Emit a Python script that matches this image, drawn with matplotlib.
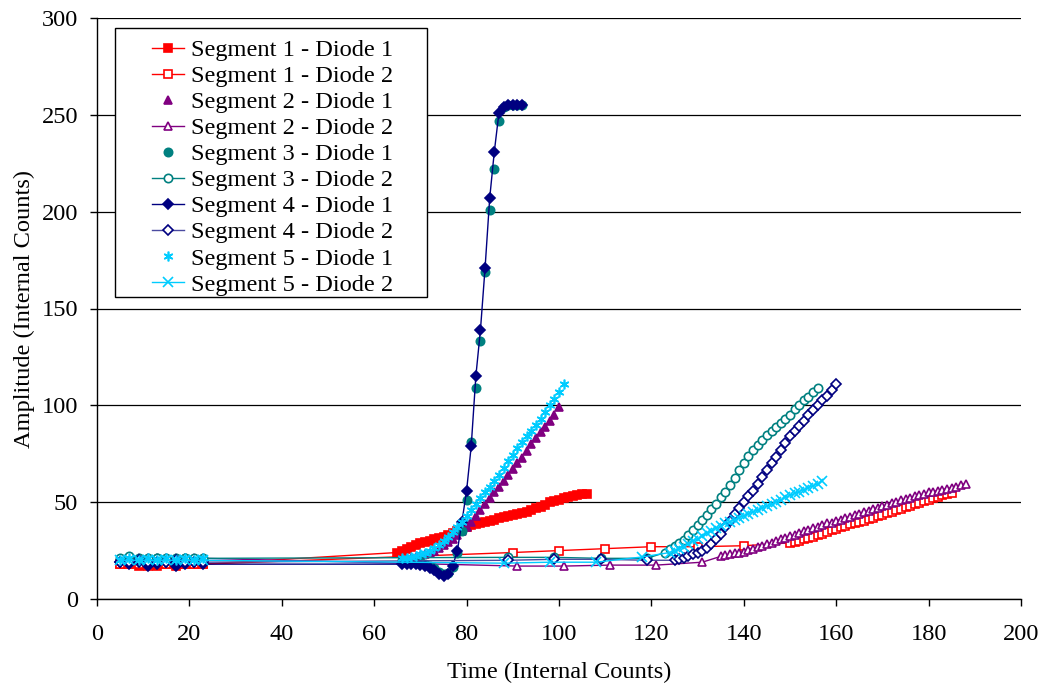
import numpy as np
import matplotlib
matplotlib.use('Agg')
import matplotlib.pyplot as plt
from matplotlib.patches import Rectangle

plt.rcParams['font.family'] = ['Liberation Serif', 'DejaVu Serif']
plt.rcParams['font.size'] = 17.6

# Initial cluster common to every series
cluster_x = [5, 7, 9, 11, 13, 15, 17, 19, 21, 23]

# Segment 1
s1d1_cy = [18, 18, 17, 18, 17, 18, 17, 18, 18, 18]
s1d1_x = list(range(65, 107))
s1d1_y = [24, 25, 26, 27, 28, 29, 29.5, 30, 31, 31.5, 32, 33, 34, 35, 36, 37, 38, 38.5, 39, 40,
          40.5, 41, 42, 42.5, 43, 43.5, 44, 44.5, 45, 46, 47, 47.5, 48.5, 50, 50.5, 51, 52, 52.5,
          53, 53.5, 54, 54]
s1d2_cy = [18, 18, 18, 17, 18, 18, 18, 18, 18, 18]
s1d2_x = [90, 100, 110, 120, 130, 140] + list(range(150, 186))
s1d2_y = [24, 25, 26, 27, 27, 27.5,
          29, 29.5, 30, 31, 31.5, 32, 33, 33.5, 34.5, 35.5, 36, 37, 37.5, 38.5, 39, 40, 40.5, 41.5,
          42, 43, 43.5, 44.5, 45, 46, 46.5, 47.5, 48, 49, 49.5, 50.5, 51, 52, 52.5, 53.5, 54, 54.5]

# Segment 2
s2d1_cy = [20, 20, 21, 20, 21, 20, 21, 20, 21, 20]
s2d1_x = list(range(66, 101))
s2d1_y = [20, 20.5, 21, 21.5, 22, 23, 24, 25, 26.5, 28, 29.5, 31, 33, 35, 37, 40, 43, 46, 49, 52,
          55, 58, 61, 64, 67, 70, 73, 76.5, 80, 83, 86, 89, 92, 95, 99]
s2d2_cy = [20, 21, 20, 21, 20, 21, 20, 21, 20, 21]
s2d2_x = [91, 101, 111, 121, 131] + list(range(135, 189))
s2d2_y = [17, 17, 17.5, 17.5, 19,
          22, 22.5, 23, 23.5, 24, 24.5, 25.5, 26, 27, 27.5, 28.5, 29, 30, 31, 31.5, 32.5, 33, 34,
          35, 35.5, 36.5, 37, 38, 39, 39.5, 40.5, 41, 42, 42.5, 43.5, 44, 45, 45.5, 46.5, 47, 48,
          48.5, 49.5, 50, 51, 51.5, 52, 53, 53.5, 54, 55, 55.5, 56, 56.5, 57, 57.5, 58, 59, 59.5]

# Segment 3
s3d1_cy = [20, 21, 20, 20, 21, 20, 20, 21, 20, 20]
s3d1_x = list(range(66, 93))
s3d1_y = [20, 20, 20, 19.5, 19, 18, 17, 16, 14, 13, 13.5, 16.5, 24, 35, 51, 81, 109, 133, 169,
          201, 222, 247, 254, 255, 255, 255, 255]
s3d2_cy = [21, 22, 21, 21, 21, 21, 21, 21, 21, 21]
s3d2_x = [89, 99, 109, 119] + list(range(123, 157))
s3d2_y = [21.5, 21.5, 21, 21,
          24, 26, 27.5, 29, 30.5, 33, 35.5, 38, 41, 43.5, 46.5, 49, 52.5, 55.5, 59, 62.5, 66.5,
          70, 74, 77, 79.5, 82, 84.5, 87, 89, 91, 93, 95, 98, 100, 102.5, 104.5, 107, 109]

# Segment 4
s4d1_cy = [19, 18, 19, 17, 18, 19, 17, 18, 19, 18]
s4d1_x = list(range(66, 93))
s4d1_y = [18, 18, 18, 18, 17.5, 17, 16, 15, 13, 12, 13, 17, 25, 40, 56, 79, 115, 139, 171,
          207, 231, 251, 254, 255, 255, 255, 255]
s4d2_cy = [19, 19, 20, 19, 19, 19, 20, 19, 19, 19]
s4d2_x = [89, 99, 109, 119] + list(range(125, 161))
s4d2_y = [20, 20.5, 20.5, 20,
          20, 20.5, 21, 22, 23, 24, 25, 26.5, 28.5, 31, 33.5, 37, 40.5, 44, 47, 50, 53, 56, 59.5,
          63, 66.5, 70, 73.5, 77, 80.5, 84, 87, 89.5, 92, 95, 97.5, 100, 102.5, 105, 108, 111]

# Segment 5
s5d1_cy = [20, 21, 20, 21, 20, 21, 20, 21, 20, 21]
s5d1_x = list(range(66, 102))
s5d1_y = [21, 21, 21.5, 22, 23, 24, 25, 26.5, 28, 30, 32, 34.5, 37, 40, 43, 46, 49, 52, 55, 58,
          61, 64, 67.5, 71, 74.5, 78, 81, 84, 87, 90, 93, 96.5, 100, 103.5, 107, 111]
s5d2_cy = [20, 20, 20, 20, 20, 20, 20, 20, 20, 20]
s5d2_x = [88, 98, 108, 118] + list(range(124, 158))
s5d2_y = [18.5, 19, 19, 21.7,
          24, 25, 26, 27, 28.5, 30, 31, 32.5, 34, 35, 36.5, 37.5, 39, 40, 41, 42, 43, 44, 45, 46,
          47, 48, 49, 50, 51, 52.5, 53.5, 54.5, 55.5, 56.5, 57.5, 58.5, 59.5, 61]

red = '#FF0000'
purple = '#800080'
teal = '#008080'
navy = '#000080'
sky = '#00CCFF'
asterisk = (6, 2, 0)

series = [
    ('Segment 1 - Diode 1', s1d1_cy, s1d1_x, s1d1_y, dict(color=red, marker='s', ms=5.5, mfc=red, mec=red, ls='-')),
    ('Segment 1 - Diode 2', s1d2_cy, s1d2_x, s1d2_y, dict(color=red, marker='s', ms=5.5, mfc='white', mec=red, ls='-')),
    ('Segment 2 - Diode 1', s2d1_cy, s2d1_x, s2d1_y, dict(color=purple, marker='^', ms=6, mfc=purple, mec=purple, ls='none')),
    ('Segment 2 - Diode 2', s2d2_cy, s2d2_x, s2d2_y, dict(color=purple, marker='^', ms=6, mfc='white', mec=purple, ls='-')),
    ('Segment 3 - Diode 1', s3d1_cy, s3d1_x, s3d1_y, dict(color=teal, marker='o', ms=6, mfc=teal, mec=teal, ls='none')),
    ('Segment 3 - Diode 2', s3d2_cy, s3d2_x, s3d2_y, dict(color=teal, marker='o', ms=6, mfc='white', mec=teal, ls='-')),
    ('Segment 4 - Diode 1', s4d1_cy, s4d1_x, s4d1_y, dict(color=navy, marker='D', ms=5, mfc=navy, mec=navy, ls='-')),
    ('Segment 4 - Diode 2', s4d2_cy, s4d2_x, s4d2_y, dict(color='#4B4BA0', marker='D', ms=5, mfc='white', mec=navy, ls='-')),
    ('Segment 5 - Diode 1', s5d1_cy, s5d1_x, s5d1_y, dict(color=sky, marker=asterisk, ms=7, mfc=sky, mec=sky, ls='none')),
    ('Segment 5 - Diode 2', s5d2_cy, s5d2_x, s5d2_y, dict(color=sky, marker='x', ms=6.5, mfc=sky, mec=sky, ls='-')),
]

fig = plt.figure(figsize=(10.46, 6.88), dpi=100)
ax = fig.add_axes([97 / 1046, 1 - 599 / 688, 924 / 1046, 581 / 688])

for label, cy, sx, sy, style in series:
    xs = list(cluster_x) + list(sx)
    ys = list(cy) + list(sy)
    ax.plot(xs, ys, label=label, lw=1.0, mew=1.2, **style)

ax.set_xlim(0, 200)
ax.set_ylim(0, 300)
ax.set_xticks(range(0, 201, 20))
ax.set_yticks(range(0, 301, 50))
ax.grid(axis='y', color='black', lw=0.9)
ax.set_axisbelow(True)
for side in ['top', 'right']:
    ax.spines[side].set_visible(False)
ax.spines['left'].set_linewidth(1.0)
ax.spines['bottom'].set_linewidth(1.0)
ax.tick_params(direction='out', length=5, width=1, labelsize=17.6)
ax.tick_params(axis='x', pad=13)
ax.tick_params(axis='y', pad=8.5)
ax.set_xlabel('Time (Internal Counts)', fontsize=17.6, labelpad=12)
ax.set_ylabel('Amplitude (Internal Counts)', fontsize=17.6, labelpad=5)

# legend frame drawn separately so the entries sit centred in a wide box
frame = Rectangle((115 / 1046, 1 - 297 / 688), 312 / 1046, 269 / 688, transform=fig.transFigure,
                  facecolor='white', edgecolor='black', lw=1.0, zorder=4, clip_on=False)
ax.add_patch(frame)
leg = ax.legend(loc='upper left', bbox_to_anchor=(140 / 1046, 1 - 27 / 688), bbox_transform=fig.transFigure,
                frameon=False, borderpad=0, handlelength=1.3, handletextpad=0.3, labelspacing=0.16,
                fontsize=17.6, numpoints=1)
leg.set_zorder(5)

fig.savefig('out.png', dpi=100)
